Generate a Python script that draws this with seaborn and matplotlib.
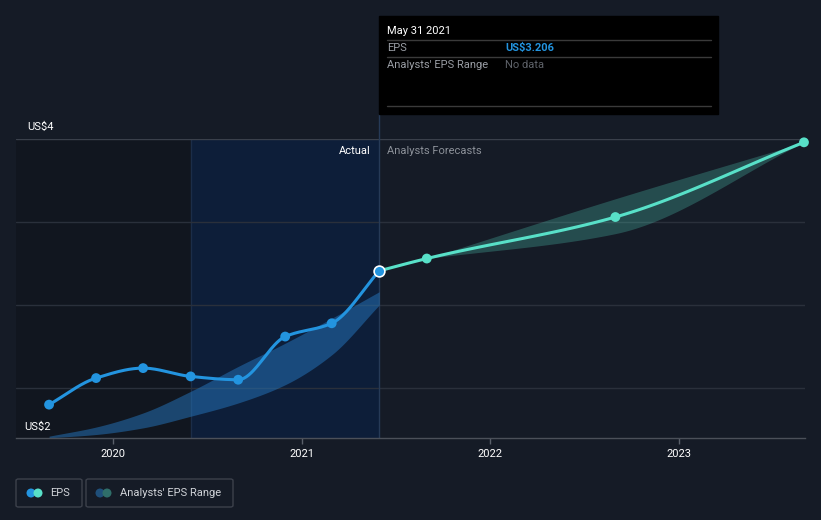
import numpy as np
import pandas as pd
import matplotlib
matplotlib.use('Agg')
import matplotlib.pyplot as plt
import matplotlib.dates as mdates
from matplotlib.patches import Rectangle, Ellipse, FancyBboxPatch
from matplotlib.lines import Line2D
import seaborn as sns

# === DATA ===
actual_dates = ['2019-08-31', '2019-11-30', '2020-02-29', '2020-05-31',
                '2020-08-31', '2020-11-30', '2021-02-28', '2021-05-31']
actual_eps = [2.40, 2.56, 2.62, 2.57, 2.55, 2.81, 2.89, 3.206]
past_range_low = [2.20, 2.22, 2.26, 2.33, 2.41, 2.52, 2.70, 3.00]
past_range_high = [2.21, 2.265, 2.35, 2.48, 2.63, 2.77, 2.92, 3.08]

forecast_dates = ['2021-05-31', '2021-08-31', '2022-08-31', '2023-08-31']
forecast_eps = [3.206, 3.28, 3.53, 3.98]
range_dates = ['2021-08-31', '2022-08-31', '2023-08-31']
range_low = [3.28, 3.43, 3.98]
range_high = [3.28, 3.64, 3.98]

# colours
BG = '#151b26'
BLUE = '#2394df'
TEAL = '#58e0c8'
GRID = '#2a303b'

W, H = 821, 520


def px(x, y):
    # pixel position -> figure fraction
    return x / W, 1 - y / H


def to_num(dates):
    return mdates.date2num(pd.to_datetime(dates).to_pydatetime())


def monotone(x, y, n=40):
    # monotone cubic curve through the points (only for drawing the path)
    x = np.asarray(x, float)
    y = np.asarray(y, float)
    h = np.diff(x)
    d = np.diff(y) / h
    m = np.zeros_like(y)
    m[0], m[-1] = d[0], d[-1]
    for i in range(1, len(y) - 1):
        if d[i - 1] * d[i] <= 0:
            m[i] = 0
        else:
            w1 = 2 * h[i] + h[i - 1]
            w2 = h[i] + 2 * h[i - 1]
            m[i] = (w1 + w2) / (w1 / d[i - 1] + w2 / d[i])
    xs, ys = [], []
    for i in range(len(h)):
        t = np.linspace(0, 1, n, endpoint=(i == len(h) - 1))
        h00 = 2 * t**3 - 3 * t**2 + 1
        h10 = t**3 - 2 * t**2 + t
        h01 = -2 * t**3 + 3 * t**2
        h11 = t**3 - t**2
        xs.append(x[i] + t * h[i])
        ys.append(h00 * y[i] + h10 * h[i] * m[i] + h01 * y[i + 1] + h11 * h[i] * m[i + 1])
    return np.concatenate(xs), np.concatenate(ys)


sns.set_style('dark', rc={'axes.facecolor': BG, 'figure.facecolor': BG})
plt.rcParams['font.family'] = ['Roboto', 'DejaVu Sans']

fig = plt.figure(figsize=(W / 100, H / 100), dpi=100)
ax = fig.add_axes([16 / W, (H - 438) / H, 789 / W, 299 / H])
ax.set_facecolor(BG)

xa = to_num(actual_dates)
xf = to_num(forecast_dates)
xr = to_num(range_dates)
x_left = to_num(['2019-06-28'])[0]
x_right = to_num(['2023-09-02'])[0]
split = to_num(['2020-05-31'])[0]

ax.set_xlim(x_left, x_right)
ax.set_ylim(2.199, 4.0)

# shaded "past" regions
ax.axvspan(x_left, split, color='#11161f', zorder=0, lw=0)
ax.axvspan(split, xa[-1], color='#0d1e39', zorder=0, lw=0)
ax.axvline(split, color='#1b2d48', lw=1, zorder=1)

# grid
for v in [2.5, 3.0, 3.5]:
    ax.axhline(v, color=GRID, lw=1, zorder=1)
ax.axhline(4.0, color='#3a404b', lw=1, zorder=1)

# range bands
bx, blo = monotone(xa, past_range_low)
_, bhi = monotone(xa, past_range_high)
ax.fill_between(bx, blo, bhi, color='#2577bf', alpha=0.5, lw=0, zorder=2)
fx, flo = monotone(xr, range_low)
_, fhi = monotone(xr, range_high)
ax.fill_between(fx, flo, fhi, color=TEAL, alpha=0.25, lw=0, zorder=2)

# EPS lines
lx, ly = monotone(xa, actual_eps)
sns.lineplot(x=lx, y=ly, ax=ax, color=BLUE, lw=2.2, sort=False, zorder=3)
tx, ty = monotone(xf, forecast_eps)
sns.lineplot(x=tx, y=ty, ax=ax, color=TEAL, lw=2.2, sort=False, zorder=3)

sns.scatterplot(x=xa[:-1], y=actual_eps[:-1], ax=ax, color=BLUE, s=50,
                edgecolor='none', zorder=4)
sns.scatterplot(x=xf[1:], y=forecast_eps[1:], ax=ax, color=TEAL, s=50,
                edgecolor='none', zorder=4, clip_on=False)
ax.scatter([xa[-1]], [actual_eps[-1]], s=60, color=BLUE, edgecolor='white',
           linewidth=1.2, zorder=5, clip_on=False)

ax.axvline(xa[-1], color='#263a57', lw=1, zorder=1)

# axes styling
ax.xaxis.set_major_locator(mdates.YearLocator())
ax.xaxis.set_major_formatter(mdates.DateFormatter('%Y'))
ax.set_yticks([])
ax.tick_params(axis='x', colors='#5a606a', length=4, width=1, labelcolor='white',
               labelsize=8, pad=4, direction='out', bottom=True)
for s in ['top', 'left', 'right']:
    ax.spines[s].set_visible(False)
ax.spines['bottom'].set_color('#4b5059')
ax.spines['bottom'].set_linewidth(1)
ax.grid(False)
ax.set_xlabel('')
ax.set_ylabel('')

# labels
fig.text(*px(27, 127), 'US$4', color='white', fontsize=8, va='center')
fig.text(*px(24, 427), 'US$2', color='white', fontsize=8, va='center')
fig.text(*px(371, 151), 'Actual', color='white', fontsize=8, va='center', ha='right')
fig.text(*px(387, 151), 'Analysts Forecasts', color='#8c9199', fontsize=8, va='center')

# tooltip
fig.add_artist(Rectangle(px(379, 114), 339 / W, 98 / H, transform=fig.transFigure,
                         color='black', zorder=10))
fig.add_artist(Line2D([379 / W, 379 / W], [1 - 139 / H, 1 - 114 / H],
                      transform=fig.transFigure, color='#263a57', lw=1))
for yy in [40, 57, 106]:
    fig.add_artist(Line2D([387 / W, 711 / W], [1 - yy / H, 1 - yy / H],
                          transform=fig.transFigure, color='#3a3a3a', lw=1, zorder=11))
fig.text(*px(387, 31), 'May 31 2021', color='white', fontsize=8, va='center', zorder=12)
fig.text(*px(387, 48), 'EPS', color='#9a9ea5', fontsize=8, va='center', zorder=12)
fig.text(*px(505, 48), 'US$3.206', color=BLUE, fontsize=8, va='center',
         fontweight='bold', zorder=12)
fig.text(*px(387, 65), "Analysts' EPS Range", color='#9a9ea5', fontsize=8,
         va='center', zorder=12)
fig.text(*px(505, 65), 'No data', color='#5f636a', fontsize=8, va='center', zorder=12)

# legend boxes
for x0, x1 in [(16, 82), (86, 233)]:
    fig.add_artist(FancyBboxPatch(px(x0, 507), (x1 - x0) / W, 28 / H,
                                  boxstyle='round,pad=0,rounding_size=0.003',
                                  transform=fig.transFigure, facecolor='none',
                                  edgecolor='#3c414b', lw=1))
for (cx, col) in [(31, BLUE), (38, TEAL), (100, '#1f4f7a'), (107, '#2f6e69')]:
    fig.add_artist(Ellipse(px(cx, 493), 9 / W, 9 / H, transform=fig.transFigure,
                           color=col, lw=0))
fig.text(*px(50, 493), 'EPS', color='#d0d3d8', fontsize=8, va='center')
fig.text(*px(120, 493), "Analysts' EPS Range", color='#d0d3d8', fontsize=8, va='center')

plt.savefig('out.png', dpi=100, facecolor=BG)
